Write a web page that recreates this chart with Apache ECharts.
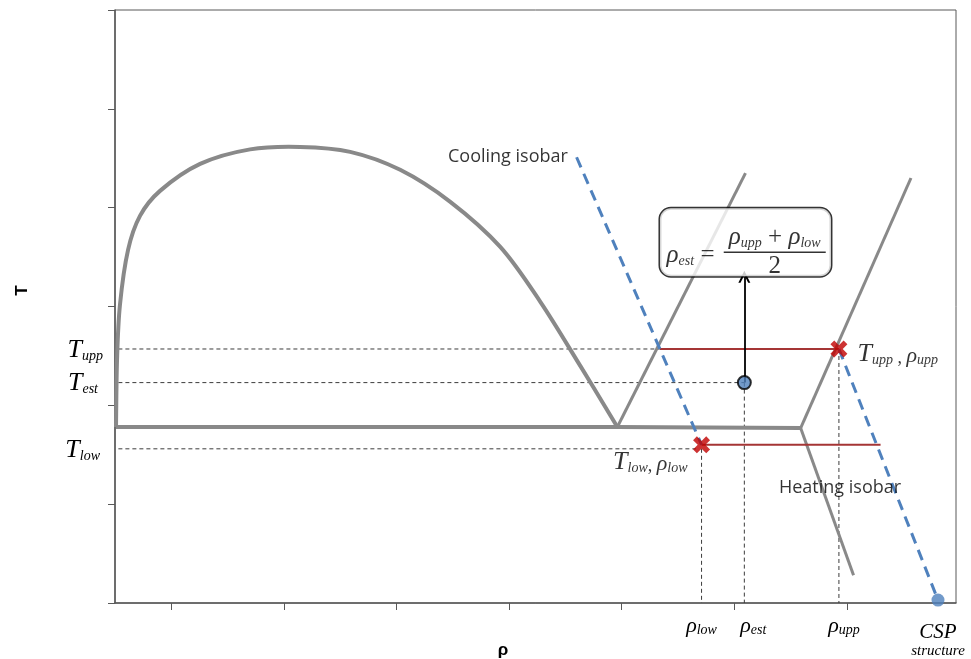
<!DOCTYPE html>
<html>
<head>
<meta charset="utf-8">
<script src="https://cdn.jsdelivr.net/npm/echarts@6/dist/echarts.min.js"></script>
<style>
  html, body { margin: 0; padding: 0; background: #fff; }
  #chart { width: 971px; height: 659px; }
</style>
</head>
<body>
<div id="chart"></div>
<script>
// Axis extents (arbitrary units: ρ horizontally, T vertically)
const RHO_MAX = 7.47;
const T_MAX = 6;
const rhoTicks = [0.5, 1.5, 2.5, 3.5, 4.5, 5.5, 6.5];

// Characteristic states
const T_UPP = 2.57, T_EST = 2.23, T_LOW = 1.60, T_LOW_GUIDE = 1.56;
const RHO_LOW = 5.21, RHO_EST = 5.59, RHO_UPP = 6.43, RHO_CSP = 7.31;

// Vapour–liquid coexistence dome
const domeCurve = [
  [0.009, 1.781], [0.018, 2.460], [0.044, 3.016], [0.116, 3.573],
  [0.222, 3.917], [0.400, 4.170], [0.756, 4.443], [1.200, 4.590],
  [1.644, 4.615], [2.089, 4.565], [2.533, 4.383], [2.978, 4.059],
  [3.422, 3.603], [3.778, 3.047], [4.133, 2.399], [4.462, 1.781]
];
// Triple line and solid/liquid boundaries
const tripleLine   = [[0.009, 1.781], [4.462, 1.781], [6.09, 1.77]];
const liquidBranch = [[4.462, 1.781], [5.60, 4.35]];
const solidUpper   = [[6.09, 1.77], [7.07, 4.30]];
const solidLower   = [[6.09, 1.77], [6.56, 0.28]];

// Isobars
const coolingIsobar = [[4.10, 4.51], [RHO_LOW, T_LOW]];
const heatingIsobar = [[RHO_UPP, T_UPP], [RHO_CSP, 0.03]];

// Tie lines at T_upp and T_low
const upperTie = [[4.84, T_UPP], [RHO_UPP, T_UPP]];
const lowerTie = [[RHO_LOW, T_LOW], [6.80, T_LOW]];

// Dashed reference lines to the axes
const guides = [
  [[0.03, T_UPP], [4.84, T_UPP]],
  [[0.03, T_EST], [RHO_EST, T_EST]],
  [[0.03, T_LOW_GUIDE], [5.16, T_LOW_GUIDE]],
  [[RHO_LOW, T_LOW_GUIDE], [RHO_LOW, 0]],
  [[RHO_EST, T_EST], [RHO_EST, 0]],
  [[RHO_UPP, T_UPP], [RHO_UPP, 0]]
];

const arrowTop = 3.30;
const formulaCentre = [5.60, 3.65];

const GRAY = '#898989';
const BLUE = '#4f81bd';
const TIE_RED = '#a53535';
const X_RED = '#c00000';
const AXIS = '#595959';
const SERIF = 'Liberation Serif';
const SANS = 'Open Sans';

const richMath = {
  T:   { fontFamily: SERIF, fontStyle: 'italic', fontSize: 26, color: '#000', lineHeight: 28, verticalAlign: 'bottom' },
  r:   { fontFamily: SERIF, fontStyle: 'italic', fontSize: 24, color: '#000', lineHeight: 26, verticalAlign: 'bottom' },
  s:   { fontFamily: SERIF, fontStyle: 'italic', fontSize: 14, color: '#000', lineHeight: 16, verticalAlign: 'bottom' },
  c:   { fontFamily: SERIF, fontSize: 18, color: '#000', lineHeight: 20, verticalAlign: 'bottom' }
};
const richPair = Object.assign({}, richMath, {
  r: { fontFamily: SERIF, fontStyle: 'italic', fontSize: 22, color: '#000', lineHeight: 24, verticalAlign: 'bottom' }
});

function segment(data, lineStyle, z) {
  return {
    type: 'line', data, symbol: 'none',
    silent: true, animation: false, clip: false, z: z, lineStyle
  };
}

// Smooth curve through the points (Catmull–Rom converted to cubic Béziers)
function smoothCurve(points, style, z) {
  return {
    type: 'custom', coordinateSystem: 'cartesian2d', silent: true, animation: false, z: z,
    data: points,
    renderItem: (params, api) => {
      if (params.dataIndex !== 0) return null;
      const p = points.map(v => api.coord(v));
      let d = 'M' + p[0][0] + ',' + p[0][1];
      for (let i = 0; i < p.length - 1; i++) {
        const a = p[Math.max(i - 1, 0)], b = p[i], c = p[i + 1], e = p[Math.min(i + 2, p.length - 1)];
        const c1x = b[0] + (c[0] - a[0]) / 6, c1y = b[1] + (c[1] - a[1]) / 6;
        const c2x = c[0] - (e[0] - b[0]) / 6, c2y = c[1] - (e[1] - b[1]) / 6;
        d += ' C' + c1x + ',' + c1y + ' ' + c2x + ',' + c2y + ' ' + c[0] + ',' + c[1];
      }
      return {
        type: 'path', shape: { pathData: d },
        style: { fill: 'none', stroke: style.color, lineWidth: style.width, lineJoin: 'round' }
      };
    }
  };
}

const series = [];
guides.forEach(g => series.push(segment(g, { color: '#3c3c3c', width: 1, type: [4, 3] }, 1)));
series.push(smoothCurve(domeCurve, { color: GRAY, width: 4 }, 2));
series.push(segment(tripleLine, { color: GRAY, width: 4 }, 2));
[liquidBranch, solidUpper, solidLower].forEach(d =>
  series.push(segment(d, { color: GRAY, width: 3 }, 2)));
[upperTie, lowerTie].forEach(d =>
  series.push(segment(d, { color: TIE_RED, width: 2 }, 3)));
[coolingIsobar, heatingIsobar].forEach(d =>
  series.push(segment(d, { color: BLUE, width: 3, type: [11, 7] }, 3)));

// Arrow from the estimate up to the formula
series.push({
  type: 'lines', coordinateSystem: 'cartesian2d', silent: true, animation: false, z: 4,
  symbol: ['none', 'path://M0,10 L5,0 L10,10 L8.2,10 L5,3.6 L1.8,10 Z'],
  symbolSize: [0, 12],
  lineStyle: { color: '#000', width: 1.8, opacity: 1, curveness: 0 },
  data: [{ coords: [[RHO_EST, T_EST], [RHO_EST, arrowTop]] }]
});

// CSP structure end point
series.push({
  type: 'scatter', silent: true, animation: false, clip: false, z: 5,
  symbolSize: 13, itemStyle: { color: BLUE },
  data: [[RHO_CSP, 0.03]]
});
// Estimated state
series.push({
  type: 'scatter', silent: true, animation: false, clip: false, z: 6,
  symbolSize: 13, itemStyle: { color: BLUE, borderColor: '#000', borderWidth: 2 },
  data: [[RHO_EST, T_EST]]
});
// Upper and lower states
series.push({
  type: 'scatter', silent: true, animation: false, clip: false, z: 6,
  symbol: 'path://M0,3.6 L3.6,0 L8,4.4 L12.4,0 L16,3.6 L11.6,8 L16,12.4 L12.4,16 L8,11.6 L3.6,16 L0,12.4 L4.4,8 Z',
  symbolSize: 17, itemStyle: { color: X_RED },
  data: [[RHO_UPP, T_UPP], [RHO_LOW, T_LOW]]
});

// Formula frame
series.push({
  type: 'scatter', silent: true, animation: false, clip: false, z: 7,
  symbolSize: 1, itemStyle: { color: 'rgba(0,0,0,0)' },
  data: [{
    value: formulaCentre,
    label: {
      show: true, position: 'inside', formatter: ' ',
      width: 171, height: 68, padding: 0,
      backgroundColor: '#fff', borderColor: '#000', borderWidth: 1.5, borderRadius: 11
    }
  }]
});

const richFormula = Object.assign({}, richMath, {
  r: { fontFamily: SERIF, fontStyle: 'italic', fontSize: 25, color: '#000', lineHeight: 26, verticalAlign: 'bottom' },
  c: { fontFamily: SERIF, fontSize: 25, color: '#000', lineHeight: 26, verticalAlign: 'bottom' },
  bar: { width: 102, height: 1.5, lineHeight: 4, backgroundColor: '#000', fontSize: 1 },
  d: { fontFamily: SERIF, fontSize: 25, color: '#000', lineHeight: 24 }
});

// Text annotations
series.push({
  type: 'scatter', silent: true, animation: false, clip: false, z: 8,
  symbolSize: 1, itemStyle: { color: 'rgba(0,0,0,0)' },
  data: [
    { value: [3.49, 4.51], label: { show: true, position: 'inside', formatter: 'Cooling isobar',
        fontFamily: SANS, fontSize: 18, color: '#000' } },
    { value: [6.44, 1.16], label: { show: true, position: 'inside', formatter: 'Heating isobar',
        fontFamily: SANS, fontSize: 18, color: '#000' } },
    { value: [6.59, 2.53], label: { show: true, position: 'right', distance: 0,
        formatter: '{T|T}{s|upp}{c| , }{r|ρ}{s|upp}', rich: richPair } },
    { value: [4.42, 1.43], label: { show: true, position: 'right', distance: 0,
        formatter: '{T|T}{s|low}{c|, }{r|ρ}{s|low}', rich: richPair } },
    { value: [5.14, 3.52], label: { show: true, position: 'inside',
        formatter: '{r|ρ}{s|est}{c| = }', rich: richFormula } },
    { value: [5.86, 3.56], label: { show: true, position: 'inside', align: 'center',
        formatter: '{r|ρ}{s|upp}{c| + }{r|ρ}{s|low}\n{bar| }\n{d|2}', rich: richFormula } }
  ]
});

const yLabelText = {};
yLabelText[T_UPP] = '{T|T}{s|upp}';
yLabelText[T_EST] = '{T|T}{s|est}{p|}';
yLabelText[T_LOW_GUIDE] = '{T|T}{s|low}{q|}';

const xLabelText = {};
xLabelText[RHO_LOW] = '{r|ρ}{s|low}';
xLabelText[RHO_EST] = '{pl|}{r|ρ}{s|est}';
xLabelText[RHO_UPP] = '{pm|}{r|ρ}{s|upp}';
xLabelText[RHO_CSP] = '{big|CSP}\n{small|structure}';

const option = {
  animation: false,
  backgroundColor: '#fff',
  grid: {
    left: 115, right: 15, top: 10, bottom: 56,
    show: true, borderColor: AXIS, borderWidth: 1, backgroundColor: 'transparent',
    outerBoundsMode: 'none'
  },
  xAxis: {
    type: 'value', min: 0, max: RHO_MAX,
    name: 'ρ', nameLocation: 'middle', nameGap: 39, nameMoveOverlap: false,
    nameTextStyle: { fontFamily: 'Liberation Sans', fontWeight: 'bold', fontSize: 17, color: '#000', padding: [0, 65, 0, 0] },
    axisLine: { show: true, lineStyle: { color: AXIS, width: 1.5 } },
    axisTick: { show: true, length: 7, customValues: rhoTicks, lineStyle: { color: AXIS, width: 1 } },
    axisLabel: {
      show: true, margin: 10, customValues: [RHO_LOW, RHO_EST, RHO_UPP, RHO_CSP],
      hideOverlap: false,
      formatter: v => xLabelText[v] || '',
      rich: Object.assign({}, richMath, {
        r: { fontFamily: SERIF, fontStyle: 'italic', fontSize: 22, color: '#000', lineHeight: 24, verticalAlign: 'bottom' },
        pl: { width: 18 }, pm: { width: 10 },
        big: { fontFamily: SERIF, fontStyle: 'italic', fontSize: 21, color: '#000', lineHeight: 22, padding: [16, 0, 0, 0] },
        small: { fontFamily: SERIF, fontStyle: 'italic', fontSize: 15, color: '#000', lineHeight: 32 }
      })
    },
    splitLine: { show: false }
  },
  yAxis: {
    type: 'value', min: 0, max: T_MAX, interval: 1,
    name: 'T', nameLocation: 'middle', nameGap: 84, nameMoveOverlap: false,
    nameTextStyle: { fontFamily: 'Liberation Sans', fontWeight: 'bold', fontSize: 17, color: '#000', padding: [0, 0, 0, 32] },
    axisLine: { show: true, lineStyle: { color: AXIS, width: 1.5 } },
    axisTick: { show: true, length: 7, lineStyle: { color: AXIS, width: 1 } },
    axisLabel: {
      show: true, margin: 12, customValues: [T_LOW_GUIDE, T_EST, T_UPP],
      hideOverlap: false,
      formatter: v => yLabelText[v] || '',
      rich: Object.assign({}, richMath, { p: { width: 5 }, q: { width: 3 } })
    },
    splitLine: { show: false }
  },
  series
};

const chart = echarts.init(document.getElementById('chart'));
chart.setOption(option);
</script>
</body>
</html>
